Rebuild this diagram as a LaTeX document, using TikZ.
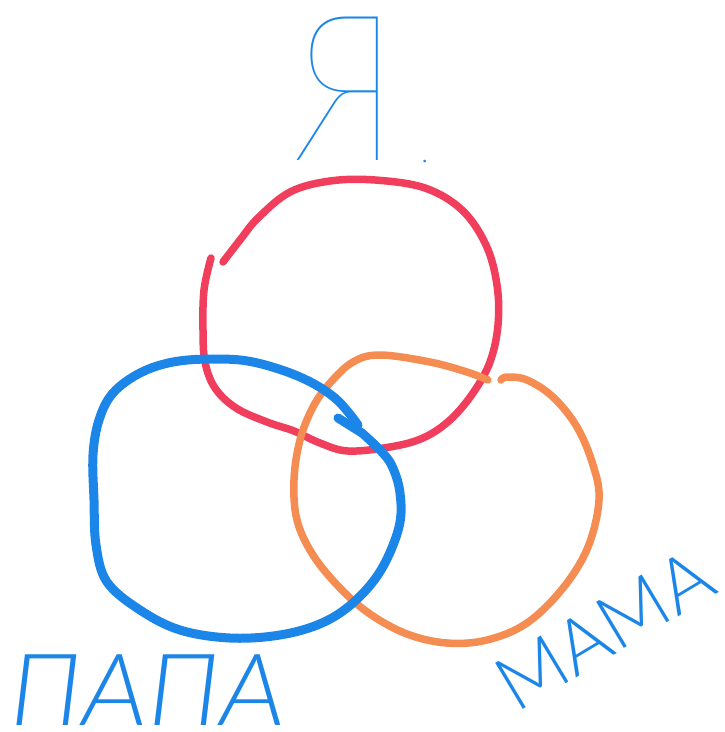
\documentclass[tikz,border=0pt]{standalone}
\usepackage{fontspec}
\newfontfamily\hairfont{Lato Hairline}
\newfontfamily\lightfont{Lato Light}
\definecolor{inkblue}{RGB}{28,134,232}
\definecolor{inkred}{RGB}{240,62,92}
\definecolor{inkorange}{RGB}{245,140,82}
\begin{document}
\begin{tikzpicture}[x=1pt,y=-1pt,
  ring/.style={line width=#1, line cap=round, line join=round},
  lettering/.style={text=inkblue, inner sep=0pt}]
\useasboundingbox (0,0) rectangle (725,732);
% red circle
\draw[ring=7.5pt, inkred] plot[smooth, tension=0.6] coordinates {
 (211,258) (204,290) (203,330) (205,362) (215,388) (236,408) (267,422)
 (294,431) (320,443) (348,451) (390,447) (423,438) (450,420) (473,393)
 (490,362) (498,325) (497,285) (486,245) (462,210) (425,188) (375,180)
 (330,181) (290,192) (258,218) (240,240) (223,262)};
% orange circle
\draw[ring=7.5pt, inkorange] plot[smooth, tension=0.6] coordinates {
 (488,380) (467,372) (430,362) (380,355) (353,362) (330,383) (313,407)
 (300,440) (294,480) (297,520) (313,555) (340,588) (370,614) (407,634)
 (447,643) (487,640) (527,623) (563,588) (588,547) (599,500) (593,465)
 (577,427) (553,397) (527,380) (507,377) (501,380)};
% blue circle
\draw[ring=9pt, inkblue] plot[smooth, tension=0.6] coordinates {
 (358,425) (335,398) (300,377) (253,362) (213,359) (173,362) (140,373)
 (113,393) (99,420) (93,455) (94,500) (96,545) (107,582) (140,610)
 (180,630) (230,638) (280,635) (322,623) (354,602) (381,570) (399,527)
 (400,493) (392,466) (380,450) (362,433)};
\draw[ring=9pt, inkblue] (338,418) -- (362,433);
% texts
\node[lettering, anchor=base, xscale=0.78] (ya) at (346,160)
  {\fontsize{205}{205}\hairfont Я};
\node[lettering, anchor=base] (dot) at (425,162)
  {\fontsize{40}{40}\hairfont .};
\node[lettering, anchor=base west, xslant=0.12] (papa) at (6,725)
  {\fontsize{100}{100}\lightfont ПАПА};
\node[lettering, anchor=base west, rotate=31] (mama) at (516,714)
  {\fontsize{76}{76}\lightfont МАМА};
\end{tikzpicture}
\end{document}
